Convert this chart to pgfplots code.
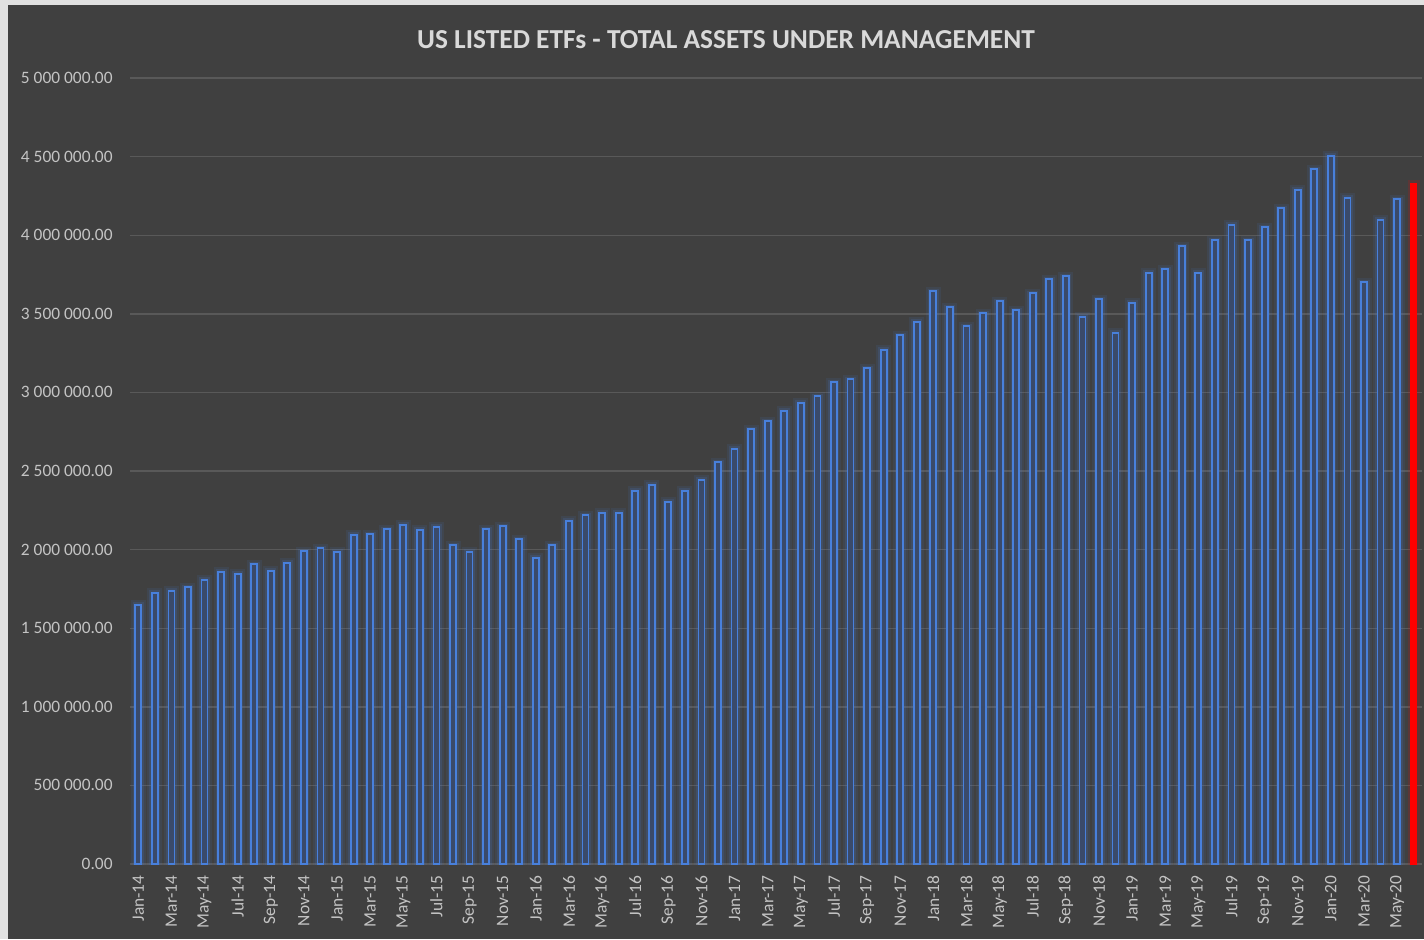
\documentclass[border=0pt]{standalone}
\usepackage{fontspec}
\setmainfont{Carlito}
\usepackage{pgfplots}
\usepackage{pgfplotstable}
\pgfplotsset{compat=1.18}
\definecolor{bg}{RGB}{64,64,64}
\definecolor{frame}{RGB}{225,225,225}
\definecolor{titlegray}{RGB}{217,217,217}
\definecolor{tickgray}{RGB}{196,196,196}
\definecolor{gridgray}{RGB}{89,89,89}
\definecolor{barblue}{RGB}{72,128,220}
\definecolor{barfill}{RGB}{58,74,106}
\pgfplotstableread{
x y
0 1648000
1 1724000
2 1737000
3 1762000
4 1807000
5 1858000
6 1845000
7 1908000
8 1864000
9 1915000
10 1991000
11 2010000
12 1985000
13 2093000
14 2099000
15 2131000
16 2157000
17 2125000
18 2144000
19 2029000
20 1985000
21 2131000
22 2150000
23 2067000
24 1947000
25 2029000
26 2182000
27 2220000
28 2233000
29 2233000
30 2373000
31 2411000
32 2303000
33 2373000
34 2443000
35 2557000
36 2640000
37 2767000
38 2818000
39 2882000
40 2933000
41 2977000
42 3066000
43 3085000
44 3155000
45 3270000
46 3365000
47 3448000
48 3645000
49 3543000
50 3422000
51 3505000
52 3581000
53 3524000
54 3632000
55 3721000
56 3740000
57 3480000
58 3594000
59 3378000
60 3569000
61 3760000
62 3785000
63 3931000
64 3760000
65 3969000
66 4065000
67 3969000
68 4052000
69 4173000
70 4288000
71 4421000
72 4504000
73 4237000
74 3702000
75 4097000
76 4230000
}\bluedata
\pgfplotstableread{
x y
77 4332000
}\reddata
\begin{document}
\begin{tikzpicture}
\useasboundingbox (0pt,0pt) rectangle (712pt,469.5pt);
\fill[frame] (0pt,0pt) rectangle (712pt,469.5pt);
\fill[bg] (4pt,0pt) rectangle (712pt,467pt);
\node[text=titlegray, font=\bfseries\fontsize{13.7}{16}\selectfont] at (363pt,449.5pt) {US LISTED ETFs - TOTAL ASSETS UNDER MANAGEMENT};
\begin{axis}[
  at={(65pt,37.5pt)}, anchor=south west,
  scale only axis, width=646pt, height=393pt,
  xmin=-0.5, xmax=77.5, ymin=0, ymax=5000000,
  axis line style={draw=none},
  tick style={draw=none},
  scaled y ticks=false,
  ytick={0,500000,1000000,1500000,2000000,2500000,3000000,3500000,4000000,4500000,5000000},
  yticklabels={0.00,500 000.00,1 000 000.00,1 500 000.00,2 000 000.00,2 500 000.00,3 000 000.00,3 500 000.00,4 000 000.00,4 500 000.00,5 000 000.00},
  xtick={0,2,...,76},
  xticklabels={Jan-14,Mar-14,May-14,Jul-14,Sep-14,Nov-14,Jan-15,Mar-15,May-15,Jul-15,Sep-15,Nov-15,Jan-16,Mar-16,May-16,Jul-16,Sep-16,Nov-16,Jan-17,Mar-17,May-17,Jul-17,Sep-17,Nov-17,Jan-18,Mar-18,May-18,Jul-18,Sep-18,Nov-18,Jan-19,Mar-19,May-19,Jul-19,Sep-19,Nov-19,Jan-20,Mar-20,May-20},
  yticklabel style={anchor=east, inner sep=0pt, xshift=-8.5pt, text=tickgray, font=\fontsize{8.7}{10}\selectfont},
  xticklabel style={yshift=-5.5pt, rotate=90, anchor=east, inner sep=0pt, text=tickgray, font=\fontsize{8.7}{10}\selectfont},
  ymajorgrids, major grid style={draw=gridgray, line width=0.7pt},
]
% glow layers
\addplot[ybar, bar shift=0pt, bar width=3pt, draw=barblue, draw opacity=0.10, line width=4.5pt, fill=none] table[x=x,y=y] {\bluedata};
\addplot[ybar, bar shift=0pt, bar width=3pt, draw=barblue, draw opacity=0.15, line width=2.5pt, fill=none] table[x=x,y=y] {\bluedata};
\addplot[ybar, bar shift=0pt, bar width=3pt, draw=red, draw opacity=0.15, line width=3pt, fill=none] table[x=x,y=y] {\reddata};
% main bars
\addplot[ybar, bar shift=0pt, bar width=3pt, draw=barblue, line width=0.9pt, fill=barfill] table[x=x,y=y] {\bluedata};
\addplot[ybar, bar shift=0pt, bar width=3pt, draw=red, line width=0.5pt, fill=red] table[x=x,y=y] {\reddata};
\end{axis}
\end{tikzpicture}
\end{document}
